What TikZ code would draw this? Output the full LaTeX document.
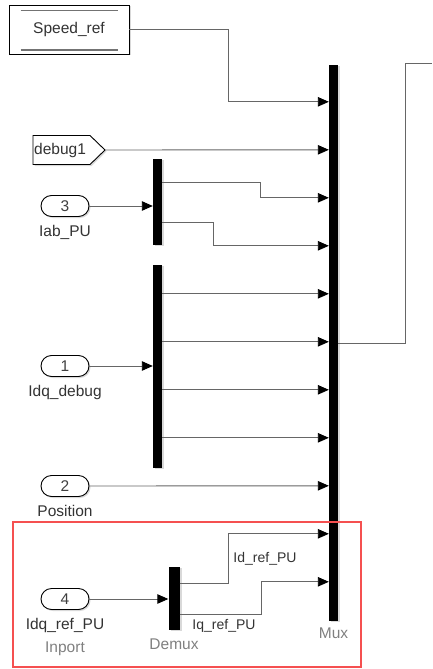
\documentclass[tikz,border=0pt]{standalone}
\usepackage{fontspec}
\setmainfont{Liberation Sans}
\usepackage{tikz}
\usetikzlibrary{arrows.meta,shadows,positioning}

\tikzset{
blk/.style={draw=black,line width=0.9pt,fill=white,drop shadow={shadow xshift=1.5pt,shadow yshift=-1.5pt,opacity=0.3}},
port/.style={blk,rounded corners=10.5pt,minimum width=48pt,minimum height=21pt,inner sep=0pt,font=\fontsize{15.5}{18}\selectfont,text=black!75},
bar/.style={fill=black,minimum width=9pt,inner sep=0pt,drop shadow={shadow xshift=2pt,shadow yshift=-1pt,opacity=0.3}},
sig/.style={draw=black!60,line width=0.9pt},
arr/.style={sig,-{Triangle[length=11pt,width=9.5pt,color=black]}},
lbl/.style={inner sep=0pt,font=\fontsize{15.5}{18}\selectfont,text=black!80},
glbl/.style={lbl,text=black!50},
slbl/.style={inner sep=0pt,font=\fontsize{14}{16}\selectfont,text=black!80},
hl/.style={draw={rgb,255:red,245;green,80;blue,80},line width=1.6pt}
}

\begin{document}
\begin{tikzpicture}[x=1pt,y=-1pt]
\useasboundingbox (0,0) rectangle (432,669);
\node[blk,minimum width=120pt,minimum height=49pt,inner sep=0pt,font=\fontsize{15.5}{18}\selectfont,text=black!80] (spd) at (69,29.5) {Speed\_ref};
\draw[black!55,line width=1.4pt] ([xshift=12pt,yshift=-6pt]spd.north west) -- ([xshift=-11pt,yshift=-6pt]spd.north east);
\draw[black!55,line width=1.4pt] ([xshift=12pt,yshift=4.5pt]spd.south west) -- ([xshift=-11pt,yshift=4.5pt]spd.south east);
\draw[blk] (33,135.5) -- (90,135.5) -- (105,150) -- (90,164.5) -- (33,164.5) -- cycle;
\node[lbl,anchor=west] (dbgtxt) at (34,150) {debug1};
\coordinate (dbg) at (105,150);
\node[port] (in3) at (65,206) {3};
\node[lbl,below=8pt of in3] (in3l) {Iab\_PU};
\node[port] (in1) at (65,366) {1};
\node[lbl,below=8pt of in1] (in1l) {Idq\_debug};
\node[port] (in2) at (65,486) {2};
\node[lbl,below=8pt of in2] (in2l) {Position};
\node[port] (in4) at (65,599) {4};
\node[lbl,below=8pt of in4] (in4l) {Idq\_ref\_PU};
\node[glbl,below=9pt of in4l] (in4t) {Inport};
\node[bar,minimum height=86pt] (dmab) at (157.5,202) {};
\node[bar,minimum height=203pt] (dmdq) at (157.5,366.5) {};
\node[bar,minimum width=11pt,minimum height=63pt] (dmref) at (174,598.5) {};
\node[glbl,below=8pt of dmref] (dmrefl) {Demux};
\node[bar,minimum height=556pt] (mux) at (333.5,343) {};
\node[glbl,below=6pt of mux] (muxl) {Mux};
\foreach \i in {1,...,11}
  \path (mux.north west) ++(0,{48*\i-11}) coordinate (m\i);
\draw[arr] (spd.east) -| ([xshift=-100pt]m1) -- (m1);
\draw[arr] (dbg) -- (m2);
\draw[arr] (in3.east) -- (in3.east -| dmab.west);
\draw[arr] ([yshift=20pt]dmab.east) -| ([xshift=-68pt]m3) -- (m3);
\draw[arr] ([yshift=-20pt]dmab.east) -| ([xshift=-115pt]m4) -- (m4);
\draw[arr] (in1.east) -- (in1.east -| dmdq.west);
\foreach \i in {5,...,8}
  \draw[arr] (dmdq.east |- m\i) -- (m\i);
\draw[arr] (in2.east) -- (m9);
\draw[arr] (in4.east) -- (in4.east -| dmref.west);
\draw[arr] ([yshift=15.5pt]dmref.east) -| ([xshift=-100pt]m10) -- (m10);
\draw[arr] ([yshift=-15.5pt]dmref.east) -| ([xshift=-67pt]m11) -- (m11);
\node[slbl] (idl) at (265,559) {Id\_ref\_PU};
\node[slbl] (iql) at (224,626) {Iq\_ref\_PU};
\coordinate (mout) at (432,63);
\draw[sig] (mux.east) -| ([xshift=-27pt]mout) -- (mout);
\draw[hl] (13,522) rectangle (361,667);
\end{tikzpicture}
\end{document}
